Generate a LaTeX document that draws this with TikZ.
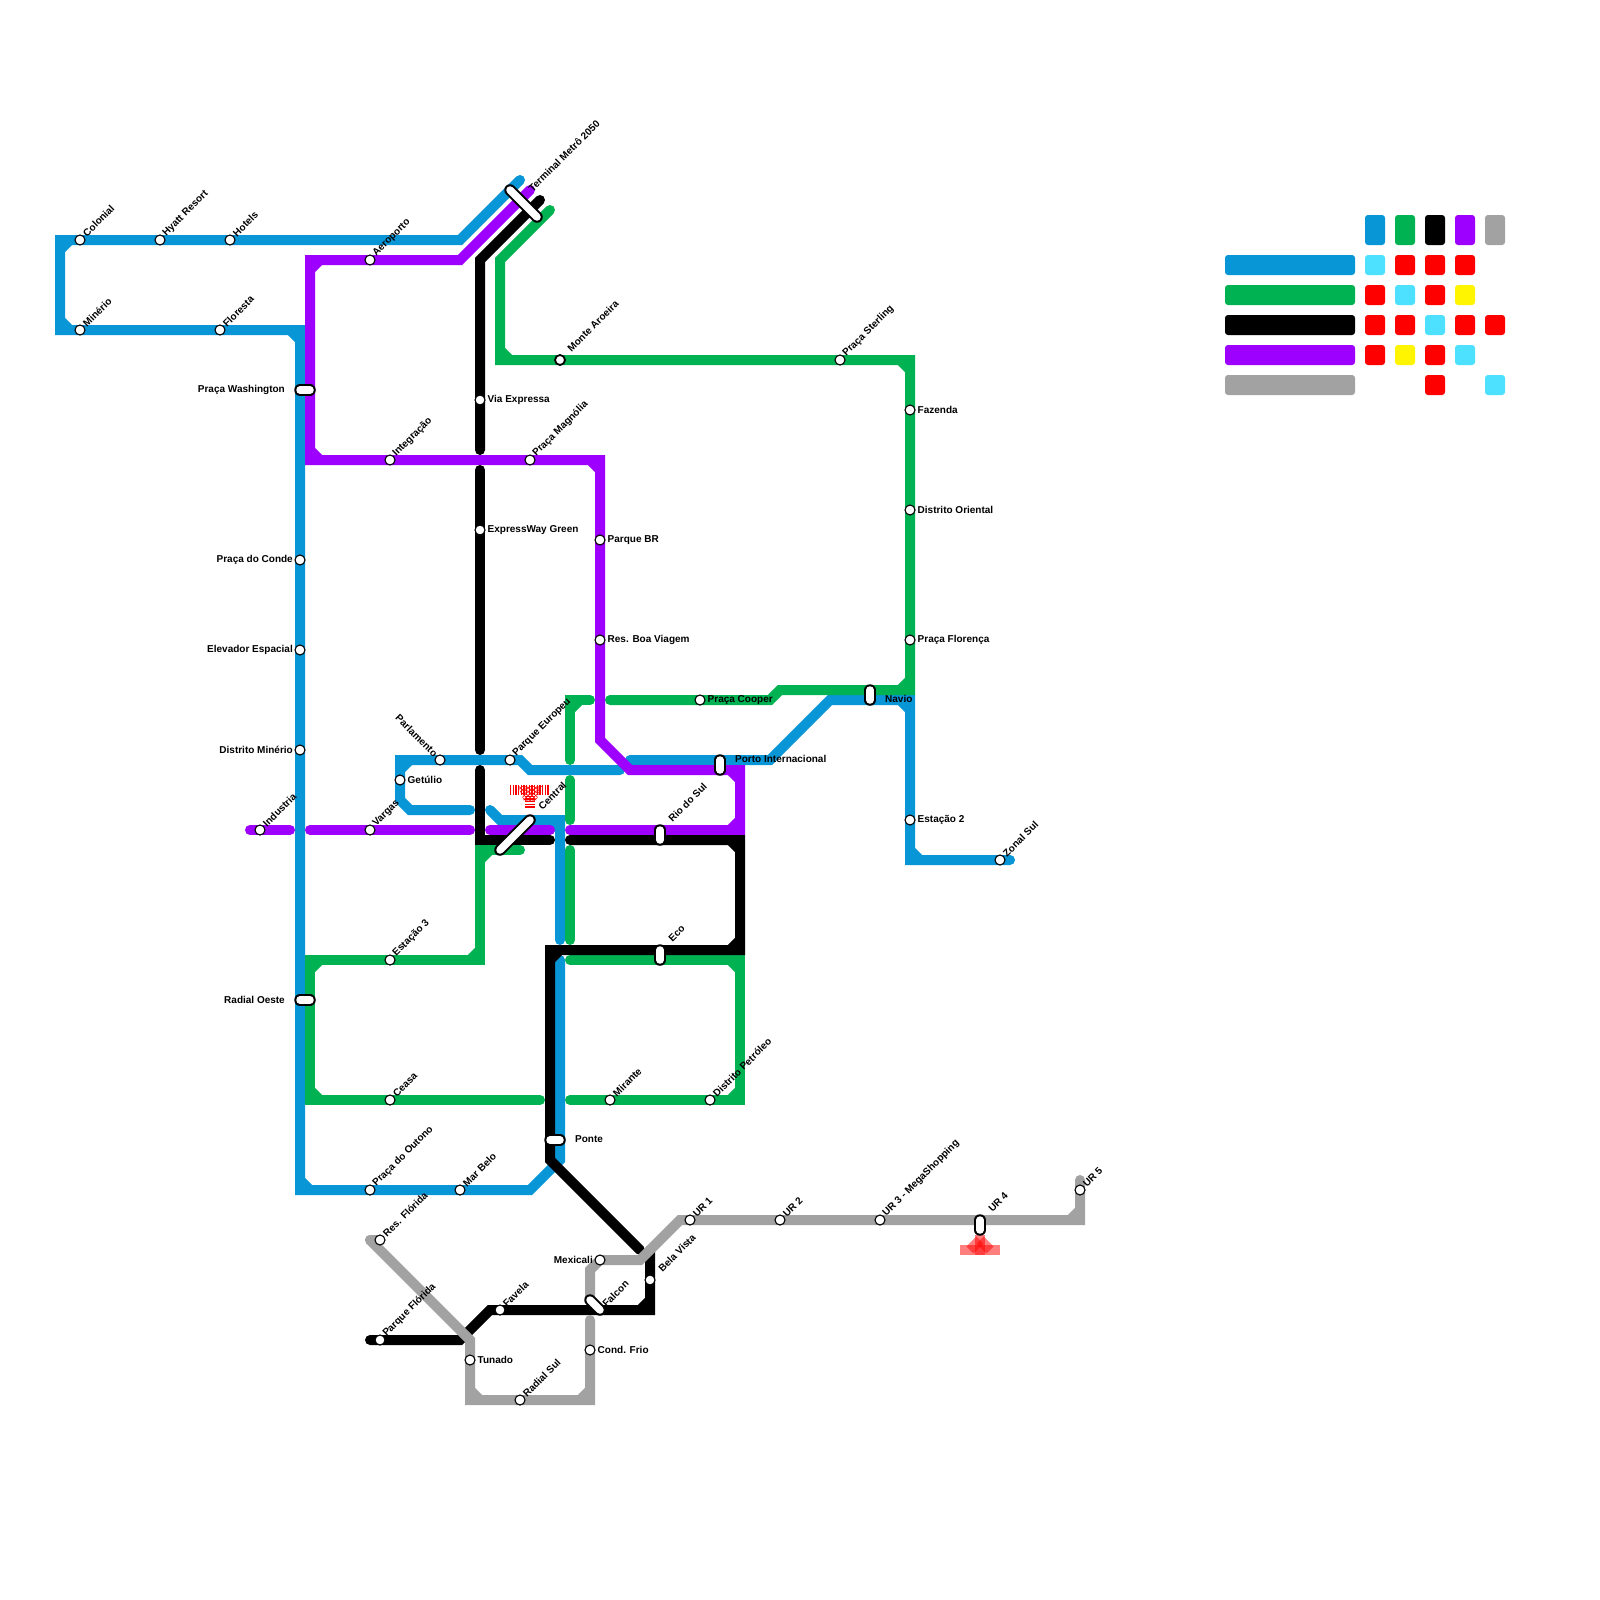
\documentclass[tikz,border=0pt]{standalone}
\usepackage{fontspec}
\setmainfont{Liberation Sans}
\definecolor{lblue}{HTML}{0896D7}
\definecolor{lgreen}{HTML}{00B251}
\definecolor{lpurple}{HTML}{9D00FF}
\definecolor{lgray}{HTML}{A2A2A2}
\definecolor{lcyan}{HTML}{4DE1FF}
\definecolor{lyellow}{HTML}{FFF500}
\tikzset{
  metro/.style={line width=10pt,line cap=round,line join=miter},
  bevel/.style={line width=10pt,line cap=butt},
  stn/.style={circle,draw=black,fill=white,line width=1.1pt,minimum size=10pt,inner sep=0pt},
  capout/.style={line width=11.5pt,line cap=round,black},
  capin/.style={line width=7.5pt,line cap=round,white},
  lab/.style={font=\fontsize{10}{12}\selectfont\bfseries,inner sep=0pt,text=black},
  labr/.style={lab,anchor=west},
  labl/.style={lab,anchor=east},
  labu/.style={lab,anchor=west,rotate=45},
  labd/.style={lab,anchor=east,rotate=-45},
}
\newcommand{\capsule}[3]{%
  \coordinate (#1-a) at #2; \coordinate (#1-b) at #3;
  \draw[capout] (#1-a) -- (#1-b);
  \draw[capin] (#1-a) -- (#1-b);
}
\begin{document}
\begin{tikzpicture}[x=1pt,y=-1pt]
\useasboundingbox (0,0) rectangle (1600,1600);
\fill[white] (0,0) rectangle (1600,1600);
% stations
\foreach \n/\x/\y in {colonial/80/240,hyatt/160/240,hotels/230/240,minerio/80/330,floresta/220/330,
 aeroporto/370/260,viaexp/480/400,expgreen/480/530,integracao/390/460,magnolia/530/460,
 parquebr/600/540,boaviagem/600/640,monte/560/360,sterling/840/360,fazenda/910/410,oriental/910/510,
 florenca/910/640,conde/300/560,elevador/300/650,dminerio/300/750,industria/260/830,vargas/370/830,
 parlamento/440/760,europeu/510/760,getulio/400/780,cooper/700/700,estacao3/390/960,ceasa/390/1100,
 mirante/610/1100,petroleo/710/1100,estacao2/910/820,zonal/1000/860,outono/370/1190,marbelo/460/1190,
 resflorida/380/1240,pqflorida/380/1340,favela/500/1310,tunado/470/1360,mexicali/600/1260,
 condfrio/590/1350,radialsul/520/1400,belavista/650/1280,ur1/690/1220,ur2/780/1220,ur3/880/1220,ur5/1080/1190}
 {\coordinate (c-\n) at (\x,\y);}
% line way-points
\foreach \n/\x/\y in {b1/520/180,b2/460/240,b3/60/240,b4/60/330,b5/300/330,b6/300/1190,b7/530/1190,b8/560/1160,b9/560/960,
 b10/470/810,b11/410/810,b12/400/800,b13/400/760,b14/520/760,b15/530/770,b16/620/770,
 b17/490/810,b18/500/820,b19/560/820,b20/560/940,
 b21/630/760,b22/770/760,b23/830/700,b24/910/700,b25/910/860,b26/1010/860,
 g1/550/210,g2/500/260,g3/500/360,g4/910/360,g5/910/690,g6/780/690,g7/770/700,g8/610/700,
 g9/590/700,g10/570/700,g11/570/760,g12/570/780,g13/570/820,g14/570/850,g15/570/940,
 g16/520/850,g17/480/850,g18/480/960,g19/310/960,g20/310/1100,g21/540/1100,
 g22/570/960,g23/740/960,g24/740/1100,g25/570/1100,
 p1/530/190,p2/460/260,p3/310/260,p4/310/460,p5/600/460,p6/600/740,p7/630/770,p8/740/770,p9/740/830,p10/570/830,
 p11/490/830,p12/550/830,p13/310/830,p14/470/830,p15/250/830,p16/290/830,
 k1/540/200,k2/480/260,k3/480/450,k4/480/470,k5/480/750,k6/480/770,k7/480/840,k8/550/840,
 k9/570/840,k10/740/840,k11/740/950,k12/550/950,k13/550/1160,k14/640/1250,
 k15/650/1250,k16/650/1310,k17/490/1310,k18/460/1340,k19/370/1340,
 y1/380/1240,y2/370/1240,y3/470/1340,y4/470/1400,y5/590/1400,y6/590/1320,
 y7/590/1300,y8/590/1270,y9/600/1260,y10/640/1260,y11/680/1220,y12/1080/1220,y13/1080/1180}
 {\coordinate (\n) at (\x,\y);}
% blue
\draw[metro,lblue] (b1)--(b2)--(b3)--(b4)--(b5)--(b6)--(b7)--(b8)--(b9);
\draw[metro,lblue] (b10)--(b11)--(b12)--(b13)--(b14)--(b15)--(b16);
\draw[metro,lblue] (b17)--(b18)--(b19)--(b20);
\draw[metro,lblue] (b21)--(b22)--(b23)--(b24)--(b25)--(b26);
\foreach \a/\b/\c/\d in {60/250/70/240,60/320/70/330,290/330/300/340,300/1180/310/1190,400/770/410/760,550/820/560/830,900/700/910/710,910/850/920/860}
 \draw[bevel,lblue] (\a,\b)--(\c,\d);
% green
\draw[metro,lgreen] (g1)--(g2)--(g3)--(g4)--(g5)--(g6)--(g7)--(g8);
\draw[metro,lgreen] (g9)--(g10)--(g11);
\draw[metro,lgreen] (g12)--(g13);
\draw[metro,lgreen] (g14)--(g15);
\draw[metro,lgreen] (g16)--(g17)--(g18)--(g19)--(g20)--(g21);
\draw[metro,lgreen] (g22)--(g23)--(g24)--(g25);
\foreach \a/\b/\c/\d in {500/350/510/360,900/360/910/370,910/680/900/690,570/710/580/700,480/860/490/850,480/950/470/960,310/970/320/960,310/1090/320/1100,730/960/740/970,740/1090/730/1100}
 \draw[bevel,lgreen] (\a,\b)--(\c,\d);
% purple
\draw[metro,lpurple] (p1)--(p2)--(p3)--(p4)--(p5)--(p6)--(p7)--(p8)--(p9)--(p10);
\draw[metro,lpurple] (p11)--(p12);
\draw[metro,lpurple] (p13)--(p14);
\draw[metro,lpurple] (p15)--(p16);
\foreach \a/\b/\c/\d in {310/270/320/260,310/450/320/460,590/460/600/470,730/770/740/780,740/820/730/830}
 \draw[bevel,lpurple] (\a,\b)--(\c,\d);
% black
\draw[metro,black] (k1)--(k2)--(k3);
\draw[metro,black] (k4)--(k5);
\draw[metro,black] (k6)--(k7)--(k8);
\draw[metro,black] (k9)--(k10)--(k11)--(k12)--(k13)--(k14);
\draw[metro,black] (k15)--(k16)--(k17)--(k18)--(k19);
\foreach \a/\b/\c/\d in {730/840/740/850,740/940/730/950,550/960/560/950,650/1300/640/1310}
 \draw[bevel,black] (\a,\b)--(\c,\d);
% gray
\draw[metro,lgray] (y1)--(y2);
\draw[metro,lgray] (y2)--(y3)--(y4)--(y5)--(y6);
\draw[metro,lgray] (y7)--(y8)--(y9)--(y10)--(y11)--(y12)--(y13);
\foreach \a/\b/\c/\d in {470/1390/480/1400,590/1390/580/1400,1070/1220/1080/1210}
 \draw[bevel,lgray] (\a,\b)--(\c,\d);
% central hatch
\foreach \i in {0,...,14} \fill[red] (510+\i*2.67,785) rectangle +(1.4,10);
\foreach \i in {0,...,4} \fill[red] (525,795.5+\i*2.67) rectangle +(10,1.4);
\begin{scope}
 \clip (518,786)--(542,786)--(536,801)--(524,801)--cycle;
 \foreach \i in {-8,...,8} {
  \draw[red,line width=.55pt] (530+\i*3.8-20,785)--++(22,22);
  \draw[red,line width=.55pt] (530+\i*3.8+20,785)--++(-22,22);
 }
\end{scope}
% UR4 marker
\fill[red,opacity=.5] (960,1245) rectangle (1000,1255);
\draw[red,opacity=.5,line width=10pt,line cap=butt] (980,1240)--(970,1250);
\draw[red,opacity=.5,line width=10pt,line cap=butt] (980,1240)--(990,1250);
\draw[red,opacity=.5,line width=10pt,line cap=butt] (980,1235)--(980,1255);
% interchanges
\capsule{wash}{(300,390)}{(310,390)}
\capsule{radoeste}{(300,1000)}{(310,1000)}
\capsule{terminal}{(510,190)}{(537,217)}
\capsule{central}{(500,850)}{(530,820)}
\capsule{ponte}{(550,1140)}{(560,1140)}
\capsule{riosul}{(660,830)}{(660,840)}
\capsule{eco}{(660,950)}{(660,960)}
\capsule{porto}{(720,760)}{(720,770)}
\capsule{navio}{(870,690)}{(870,700)}
\capsule{falcon}{(590,1300)}{(600,1310)}
\capsule{ur4}{(980,1220)}{(980,1230)}
% station nodes
\foreach \n in {colonial,hyatt,hotels,minerio,floresta,aeroporto,viaexp,expgreen,integracao,magnolia,
 parquebr,boaviagem,sterling,fazenda,oriental,florenca,conde,elevador,dminerio,industria,vargas,
 parlamento,europeu,getulio,cooper,estacao3,ceasa,mirante,petroleo,estacao2,zonal,outono,marbelo,
 resflorida,pqflorida,favela,tunado,mexicali,condfrio,radialsul,belavista,ur1,ur2,ur3,ur5}
 \node[stn] (\n) at (c-\n) {};
\node[stn,line width=1.8pt] (monte) at (c-monte) {};
% labels upward
\foreach \n/\t in {colonial/Colonial,hyatt/Hyatt Resort,hotels/Hotels,minerio/Minério,floresta/Floresta,
 aeroporto/Aeroporto,integracao/Integração,magnolia/Praça Magnólia,sterling/Praça Sterling,
 industria/Industria,vargas/Vargas,europeu/Parque Europeu,estacao3/Estação 3,ceasa/Ceasa,mirante/Mirante,
 petroleo/Distrito Petróleo,zonal/Zonal Sul,outono/Praça do Outono,marbelo/Mar Belo,resflorida/Res. Flórida,
 pqflorida/Parque Flórida,favela/Favela,radialsul/Radial Sul,ur1/UR 1,ur2/UR 2,ur3/UR 3 - MegaShopping,ur5/UR 5}
 \node[labu] (t-\n) at ([shift={(4.5,-5)}]c-\n) {\t};
\node[labu] (t-monte) at ([shift={(9,-10)}]c-monte) {Monte Aroeira};
\node[labd] (t-parlamento) at ([shift={(-4,-5)}]c-parlamento) {Parlamento};
\node[labu] (t-belavista) at ([shift={(10,-10)}]c-belavista) {Bela Vista};
\node[labu] (t-terminal) at (530,190) {Terminal Metrô 2050};
\node[labu] (t-central) at (540,808) {Central};
\node[labu] (t-riosul) at (670,820) {Rio do Sul};
\node[labu] (t-eco) at (670,940) {Eco};
\node[labu] (t-falcon) at (604,1305) {Falcon};
\node[labu] (t-ur4) at (990,1210) {UR 4};
% labels right
\foreach \n/\t in {viaexp/Via Expressa,expgreen/ExpressWay Green,parquebr/Parque BR,boaviagem/Res. Boa Viagem,
 fazenda/Fazenda,oriental/Distrito Oriental,florenca/Praça Florença,getulio/Getúlio,
 estacao2/Estação 2,tunado/Tunado,condfrio/Cond. Frio}
 \node[labr] (t-\n) at ([shift={(7.5,0)}]c-\n) {\t};
\node[labr] (t-cooper) at ([shift={(7.5,0)}]c-cooper) {Praça Cooper};
\node[labr] (t-porto) at (735,759) {Porto Internacional};
\node[labr] (t-navio) at (885,699) {Navio};
\node[labr] (t-ponte) at (575,1139) {Ponte};
% labels left
\foreach \n/\t in {conde/Praça do Conde,elevador/Elevador Espacial,dminerio/Distrito Minério,mexicali/Mexicali}
 \node[labl] (t-\n) at ([shift={(-7,0)}]c-\n) {\t};
\node[labl] (t-wash) at (285,390) {Praça Washington};
\node[labl] (t-radoeste) at (285,1000) {Radial Oeste};
% legend
\foreach \i/\c/\y in {0/lblue/255,1/lgreen/285,2/black/315,3/lpurple/345,4/lgray/375}
 \fill[\c,rounded corners=3pt] (1225,\y) rectangle (1355,\y+20);
\foreach \x/\c in {1365/lblue,1395/lgreen,1425/black,1455/lpurple,1485/lgray}
 \fill[\c,rounded corners=3pt] (\x,215) rectangle (\x+20,245);
\foreach \x/\y/\c in {1365/255/lcyan,1395/255/red,1425/255/red,1455/255/red,
 1365/285/red,1395/285/lcyan,1425/285/red,1455/285/lyellow,
 1365/315/red,1395/315/red,1425/315/lcyan,1455/315/red,1485/315/red,
 1365/345/red,1395/345/lyellow,1425/345/red,1455/345/lcyan,
 1425/375/red,1485/375/lcyan}
 \fill[\c,rounded corners=3pt] (\x,\y) rectangle (\x+20,\y+20);
\end{tikzpicture}
\end{document}
